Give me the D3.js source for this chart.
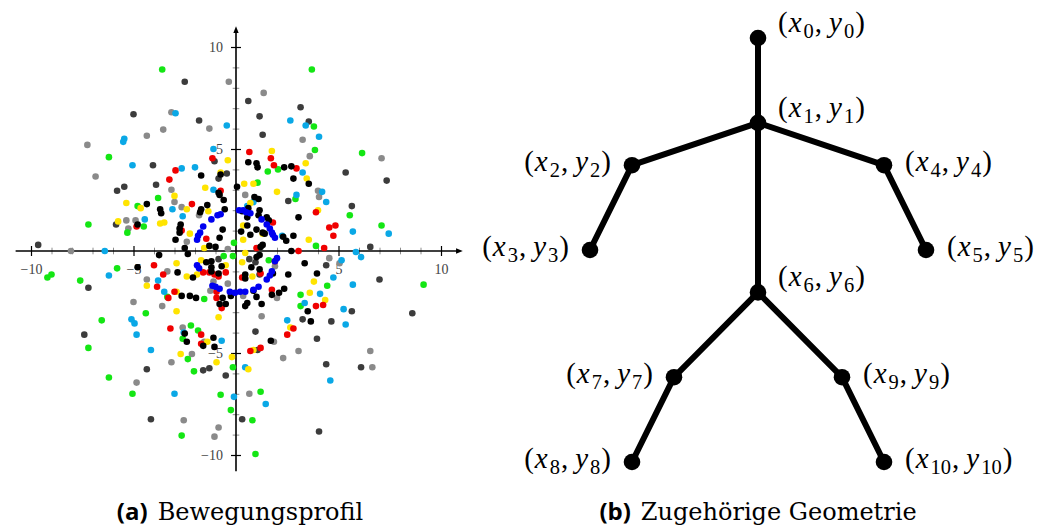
<!DOCTYPE html>
<html>
<head>
<meta charset="utf-8">
<script src="https://cdn.jsdelivr.net/npm/d3@7"></script>
<style>
  html, body { margin: 0; padding: 0; background: #fff; }
  svg { display: block; }
</style>
</head>
<body>
<svg id="fig" width="1042" height="529"></svg>
<script>
// ---- (a) movement profile: scattered positions, one array per colour ----
const greenPts = [[-3.6,8.9],[-6.2,4.6],[-3.8,2.6],[-4.8,2.2],[-7.2,1.3],[-4.5,1.2],[-5.3,0.9],[-0.1,0.4],
  [3.7,8.9],[3.8,6.1],[3.85,4.95],[6.15,4.8],[1.55,3.9],[2.05,4.0],[1.05,3.35],[2.9,2.55],[5.55,1.75],[7.1,1.25],[3.9,0.25],
  [-9.2,-1.3],[-9.0,-1.15],[-7.6,-1.45],[-5.8,-0.85],[-0.6,-0.25],[-0.15,-0.25],[-3.35,-2.25],[-1.55,-2.35],[-4.4,-3.05],
  [-6.55,-3.4],[-7.2,-4.75],[-2.2,-3.65],[-1.85,-3.9],[-2.6,-4.3],[-2.35,-5.3],[-2.05,-5.9],[-0.15,-5.7],[-6.2,-6.2],
  [-5.05,-7.0],[-0.75,-7.05],[-0.25,-7.8],[-2.65,-9.05],[1.6,-0.45],[9.15,-1.65],[4.45,-1.7],[3.15,-2.15],[3.15,-2.7],
  [1.2,-6.9],[0.8,-8.3],[0.95,-9.95]];
const cyanPts = [[-2.95,6.75],[-0.45,6.15],[-5.45,5.5],[-5.5,5.35],[-1.1,5.0],[-5.05,4.2],[-2.65,4.05],[-2.0,4.1],
  [-1.1,3.0],[-3.1,2.05],[-2.6,1.7],[-4.45,1.55],[-6.4,0.0],[2.65,6.4],[3.4,6.15],[4.05,5.6],[3.25,3.85],[2.95,2.75],
  [4.2,2.9],[4.4,2.4],[0.55,2.2],[0.85,2.4],[7.45,0.85],[5.7,0.95],[2.25,0.75],[5.85,-0.05],[-6.2,-1.2],[-3.8,-1.45],
  [-3.5,-2.0],[-5.1,-3.35],[-4.95,-3.55],[-4.85,-4.1],[-2.55,-4.0],[-0.7,-4.4],[-4.15,-4.85],[-3.0,-7.0],[-0.1,-7.15],
  [6.1,-0.3],[5.15,-0.45],[4.75,-1.3],[5.7,-1.65],[4.1,-2.1],[3.35,-2.55],[5.25,-2.85],[5.35,-3.6],[2.5,-3.4],
  [0.45,-5.7],[4.6,-6.35],[1.45,-7.5]];
const grayPts = [[-0.35,8.3],[-3.15,6.8],[-1.3,6.0],[-3.55,5.95],[-4.35,5.65],[-7.25,5.2],[-6.85,3.65],[-3.15,3.0],
  [-3.0,2.4],[-1.8,1.75],[-2.65,2.15],[-5.35,1.5],[-4.9,1.5],[-5.25,1.1],[-2.4,0.45],[-0.4,0.1],[-8.05,0.0],
  [1.35,7.75],[3.25,5.45],[3.6,4.65],[7.1,4.55],[0.45,2.75],[4.0,2.95],[4.05,2.65],
  [-4.35,-1.4],[-3.35,-1.0],[-0.4,-1.6],[-1.1,-1.5],[-1.25,-1.95],[-3.6,-2.7],[-5.0,-2.5],[-2.6,-3.75],[-1.55,-4.45],
  [-2.15,-5.05],[-3.15,-5.45],[-4.85,-6.45],[-2.55,-8.3],[-0.85,-8.65],[-1.05,-9.1],
  [4.55,-0.35],[5.05,-0.6],[1.9,-0.75],[0.35,-2.2],[2.0,-2.3],[1.25,-3.2],[1.85,-4.45],[3.05,-4.9],[2.3,-5.25],
  [6.55,-4.9],[6.65,-5.7],[0.65,-7.0]];
const darkPts = [[-2.5,8.3],[-5.0,6.7],[-1.8,6.4],[-1.05,4.4],[-4.05,4.2],[-0.45,3.8],[-0.85,3.55],[-3.9,3.25],
  [-5.45,3.15],[-5.8,2.95],[-5.85,1.3],[-9.65,0.3],[0.6,7.35],[3.15,7.05],[1.15,6.6],[3.55,6.35],[1.3,5.7],
  [5.35,3.85],[7.35,3.45],[2.55,2.45],[5.65,2.2],[6.55,0.2],[-7.2,-1.8],[-0.85,-0.4],[-7.4,-4.1],[-1.6,-5.85],
  [-1.3,-5.75],[-4.35,-5.8],[-0.5,-6.1],[-4.15,-8.25],[4.4,-0.7],[7.0,-1.4],[5.65,-2.95],[8.6,-3.05],[3.25,-3.35],
  [4.65,-3.45],[0.95,-3.95],[3.95,-4.3],[1.05,-4.85],[4.4,-5.55],[6.1,-5.7],[0.3,-8.25],[4.05,-8.85],
  [0.65,-0.4],[0.95,-0.55],[1.15,-1.15]];
const redPts = [[-1.15,4.55],[-2.95,3.95],[-3.25,3.5],[-0.75,2.95],[-2.15,2.3],[-4.85,1.2],[-2.65,1.0],[-1.45,0.6],
  [0.65,4.85],[1.7,4.55],[1.85,4.2],[2.95,4.05],[3.9,1.9],[1.8,1.4],[4.55,1.15],[4.85,1.25],[4.75,0.75],[1.0,0.15],
  [4.3,0.15],[3.05,0.0],[-4.0,-0.7],[-3.85,-1.75],[-3.55,-1.15],[-1.6,-1.05],[-1.3,-1.05],[-0.5,-1.05],[-1.05,-1.15],
  [-0.85,-1.25],[-0.95,-2.0],[-0.95,-2.3],[-0.7,-2.8],[-3.0,-2.0],[-3.3,-2.3],[-3.2,-3.8],[-1.7,-4.1],[-1.7,-4.55],
  [1.9,-0.5],[0.3,-1.3],[1.2,-1.1],[1.75,-1.9],[3.9,-2.7],[4.25,-2.65],[2.8,-3.8],[2.5,-4.1],[0.7,-4.9],[1.2,-4.75]];
const yellowPts = [[-0.4,4.45],[-0.75,3.85],[-1.5,3.1],[-3.0,2.7],[-5.35,2.35],[-4.65,2.1],[-2.4,2.05],[-1.35,1.95],
  [-5.75,1.45],[-3.7,1.35],[-3.5,1.4],[-2.25,0.85],[-1.55,0.15],[1.75,4.9],[3.4,4.3],[3.45,3.55],[0.4,3.3],[0.85,3.3],
  [2.0,2.9],[0.7,2.35],[4.0,2.0],[0.35,1.25],[0.35,0.55],[1.3,0.85],[3.55,0.55],[0.45,-0.1],[-2.9,-0.6],[-1.7,-0.45],
  [-2.4,-1.25],[-1.9,-1.15],[-4.35,-1.7],[-0.5,-0.7],[-2.9,-2.0],[-2.9,-2.95],[-0.85,-3.25],[-1.4,-4.45],[-2.7,-5.05],
  [-0.95,-5.45],[-0.2,-5.2],[0.3,-0.55],[0.8,-1.25],[3.8,-1.5],[3.6,-2.05],[4.35,-2.4],[2.65,-3.75],[0.85,-4.85],[0.6,-5.8]];
const blackPts = [[-1.7,3.7],[-0.75,3.75],[0.05,3.15],[-0.85,2.85],[-0.8,2.75],[-0.6,2.5],[-4.35,2.3],[-3.7,2.05],
  [-3.65,1.85],[-1.4,2.25],[-1.7,2.05],[-1.75,1.9],[-0.55,2.05],[-4.8,1.3],[-2.7,1.3],[-2.75,1.1],[-2.75,0.9],
  [-2.95,0.55],[-0.65,1.05],[-0.8,0.65],[-1.3,0.25],[-1.0,0.2],[-2.5,0.15],[0.6,4.35],[1.0,4.3],[1.05,4.1],[2.35,4.1],
  [2.7,4.15],[2.8,3.55],[3.55,3.3],[0.9,2.65],[1.1,2.55],[1.15,2.0],[0.3,1.95],[0.55,1.65],[3.05,1.65],[1.5,1.65],
  [1.6,1.5],[0.55,1.25],[0.25,0.95],[0.7,0.8],[1.0,1.05],[1.3,0.9],[2.3,0.7],[2.45,0.5],[2.8,0.75],[1.3,0.3],[1.2,0.2],
  [2.7,0.0],[0.6,2.1],[1.1,1.75],[1.4,0.85],[-4.8,-0.8],[-3.75,-0.2],[-2.85,-1.05],[-2.1,-1.3],[-2.35,-0.15],
  [-1.45,-0.55],[-1.2,-0.5],[-1.2,-0.8],[-1.2,-1.0],[-0.85,-1.1],[-0.7,-0.75],[-0.25,-2.2],[-2.65,-2.2],[-2.25,-2.2],
  [-1.95,-2.3],[-0.65,-2.3],[-0.8,-2.6],[-0.5,-2.6],[-2.5,-4.05],[-2.4,-4.45],[-1.6,-4.65],[-1.1,-4.25],[-1.05,-4.7],
  [1.0,-0.3],[1.15,-0.2],[0.75,-0.8],[1.15,-0.9],[0.45,-1.15],[0.45,-1.35],[1.8,-1.1],[3.35,-0.6],[3.95,-1.1],
  [2.55,-1.15],[0.85,-1.95],[1.0,-2.25],[1.75,-2.15],[2.1,-2.05],[2.35,-1.85],[0.55,-2.55],[0.45,-2.7],[1.25,-2.6],
  [3.5,-2.95],[3.65,-3.45],[1.7,-4.4]];
const bluePts = [[-0.75,1.8],[-0.9,1.75],[-1.2,1.55],[-1.6,1.2],[-1.75,0.9],[-1.85,0.75],[-1.9,0.55],
  [0.15,2.0],[0.35,2.0],[0.5,1.9],[0.7,1.85],[1.25,1.55],[1.5,1.3],[1.65,1.1],[1.75,0.9],[1.8,0.8],[1.9,0.65],
  [-1.9,-0.7],[-1.8,-0.85],[-1.15,-1.7],[-1.0,-1.75],[-0.8,-1.85],[-0.3,-2.0],[-0.05,-2.05],
  [2.0,-0.35],[1.9,-0.5],[1.75,-1.0],[1.65,-1.2],[1.5,-1.4],[1.1,-1.75],[0.85,-1.9],[0.45,-2.0],[0.2,-2.0]];

const majorTicks = [-10, -5, 5, 10];
const minorTicks = d3.range(-10, 11).filter(v => v !== 0 && v % 5 !== 0);

// ---- (b) skeleton geometry ----
const jointX = [0, 0, -3, -4, 3, 4, 0, -2, -3, 2, 3];
const jointY = [10, 8, 7, 5, 7, 5, 4, 2, 0, 2, 0];
const bones = [[0,1],[1,2],[2,3],[1,4],[4,5],[1,6],[6,7],[7,8],[6,9],[9,10]];

const captionA = ["(a)", "Bewegungsprofil"];
const captionB = ["(b)", "Zugehörige Geometrie"];

const svg = d3.select("#fig");

// scatter scales
const x = d3.scaleLinear().domain([-10, 10]).range([31, 441]);
const y = d3.scaleLinear().domain([-10, 10]).range([455, 47]);
const x0 = x(0), y0 = y(0);

const series = [
  {pts: grayPts,   color: "#8a8a8a"},
  {pts: darkPts,   color: "#3c3c3c"},
  {pts: greenPts,  color: "#14e614"},
  {pts: cyanPts,   color: "#0aa8e6"},
  {pts: yellowPts, color: "#ffe400"},
  {pts: redPts,    color: "#f00000"},
  {pts: blackPts,  color: "#000000"},
  {pts: bluePts,   color: "#0000f0"}
];

const plot = svg.append("g");

// axes with ticks crossing the axis line
const defs = svg.append("defs");
defs.append("marker").attr("id", "arr")
  .attr("viewBox", "0 0 10 10").attr("refX", 2).attr("refY", 5)
  .attr("markerWidth", 4.2).attr("markerHeight", 4.2).attr("orient", "auto")
  .append("path").attr("d", "M0,1 L10,5 L0,9 Z").attr("fill", "#000");

const fmt = d => d < 0 ? "\u2212" + Math.abs(d) : String(d);

const xMinor = plot.append("g").attr("transform", `translate(0,${y0})`)
  .call(d3.axisBottom(x).tickValues(minorTicks).tickFormat(""));
xMinor.selectAll(".tick line").attr("y1", -3.3).attr("y2", 3.3).attr("stroke", "#8c8c8c").attr("stroke-width", 1);
const yMinor = plot.append("g").attr("transform", `translate(${x0},0)`)
  .call(d3.axisLeft(y).tickValues(minorTicks).tickFormat(""));
yMinor.selectAll(".tick line").attr("x1", -3.3).attr("x2", 3.3).attr("stroke", "#8c8c8c").attr("stroke-width", 1);

const xMajor = plot.append("g").attr("transform", `translate(0,${y0})`)
  .call(d3.axisBottom(x).tickValues(majorTicks).tickFormat(fmt));
xMajor.selectAll(".tick line").attr("y1", -5).attr("y2", 5).attr("stroke", "#000").attr("stroke-width", 1.2);
xMajor.selectAll(".tick text").attr("y", 23).attr("dy", null)
  .attr("font-family", "Liberation Serif").attr("font-size", 14).attr("fill", "#444");
const yMajor = plot.append("g").attr("transform", `translate(${x0},0)`)
  .call(d3.axisLeft(y).tickValues(majorTicks).tickFormat(fmt));
yMajor.selectAll(".tick line").attr("x1", -5).attr("x2", 5).attr("stroke", "#000").attr("stroke-width", 1.2);
yMajor.selectAll(".tick text").attr("x", -13).attr("dy", "0.32em")
  .attr("font-family", "Liberation Serif").attr("font-size", 14).attr("fill", "#444");
plot.selectAll(".domain").remove();

plot.append("line").attr("x1", x(-10.75)).attr("x2", x(10.8)).attr("y1", y0).attr("y2", y0)
  .attr("stroke", "#000").attr("stroke-width", 1.6).attr("marker-end", "url(#arr)");
plot.append("line").attr("x1", x0).attr("x2", x0).attr("y1", y(-10.8)).attr("y2", y(10.75))
  .attr("stroke", "#000").attr("stroke-width", 1.6).attr("marker-end", "url(#arr)");

// dots
series.forEach(s => {
  plot.append("g").selectAll("circle").data(s.pts).join("circle")
    .attr("cx", d => x(d[0])).attr("cy", d => y(d[1])).attr("r", 3.3)
    .attr("fill", s.color);
});

// skeleton
const sx = d3.scaleLinear().domain([-4, 4]).range([590, 926]);
const sy = d3.scaleLinear().domain([0, 10]).range([462, 38]);
const sk = svg.append("g");
sk.selectAll("line").data(bones).join("line")
  .attr("x1", d => sx(jointX[d[0]])).attr("y1", d => sy(jointY[d[0]]))
  .attr("x2", d => sx(jointX[d[1]])).attr("y2", d => sy(jointY[d[1]]))
  .attr("stroke", "#000").attr("stroke-width", 6).attr("stroke-linecap", "round");
sk.selectAll("circle").data(jointX.map((v, i) => i)).join("circle")
  .attr("cx", i => sx(jointX[i])).attr("cy", i => sy(jointY[i])).attr("r", 8.3).attr("fill", "#000");

// joint labels (x_i, y_i) in a math-like serif
const place = {0:"ar",1:"ar",6:"ar",4:"r",5:"r",9:"r",10:"r",2:"l",3:"l",7:"l",8:"l"};
const FS = 29, SUB = 20.5, SH = 6;
jointX.forEach((v, i) => {
  const p = place[i];
  const cx = sx(jointX[i]), cy = sy(jointY[i]);
  let tx, ty, anchor;
  if (p === "ar") { tx = cx + 20; ty = cy - 14; anchor = "start"; }
  else if (p === "r") { tx = cx + 21; ty = cy - 2; anchor = "start"; }
  else { tx = cx - 21; ty = cy - 2; anchor = "end"; }
  const t = sk.append("text").attr("x", tx).attr("y", ty + 0.27 * FS)
    .attr("text-anchor", anchor).attr("font-family", "Liberation Serif").attr("font-size", FS).attr("fill", "#000");
  t.append("tspan").text("(");
  t.append("tspan").attr("dx", 1).attr("font-style", "italic").text("x");
  t.append("tspan").attr("dx", 2).attr("font-size", SUB).attr("dy", SH).text(i);
  t.append("tspan").attr("dx", 1).attr("dy", -SH).text(",");
  t.append("tspan").attr("dx", 7).attr("font-style", "italic").text("y");
  t.append("tspan").attr("dx", 2).attr("font-size", SUB).attr("dy", SH).text(i);
  t.append("tspan").attr("dx", 1).attr("dy", -SH).text(")");
});

// captions
function caption(cx, parts) {
  const t = svg.append("text").attr("x", cx).attr("y", 520).attr("text-anchor", "middle").attr("fill", "#000");
  t.append("tspan").attr("font-family", "Open Sans").attr("font-weight", 700).attr("font-size", 24).text(parts[0]);
  t.append("tspan").attr("dx", 10).attr("font-family", "DejaVu Serif").attr("font-size", 24).text(parts[1]);
}
caption(240, captionA);
caption(758, captionB);
</script>
</body>
</html>
